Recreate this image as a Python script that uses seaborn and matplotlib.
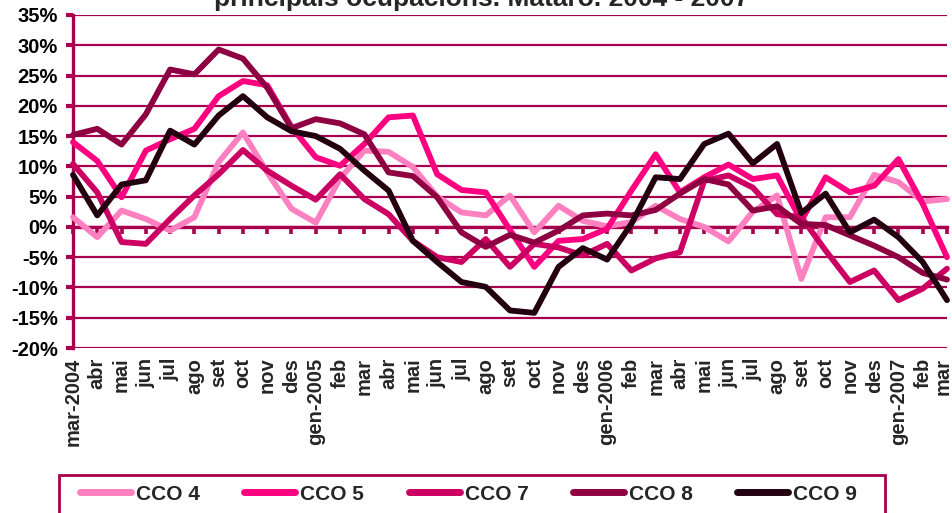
import matplotlib
matplotlib.use("Agg")
import matplotlib.pyplot as plt
import matplotlib.patches as mpatches
import matplotlib.transforms as mtransforms
import seaborn as sns
import pandas as pd
import numpy as np

months = ["mar-2004", "abr", "mai", "jun", "jul", "ago", "set", "oct", "nov", "des",
          "gen-2005", "feb", "mar", "abr", "mai", "jun", "jul", "ago", "set", "oct", "nov", "des",
          "gen-2006", "feb", "mar", "abr", "mai", "jun", "jul", "ago", "set", "oct", "nov", "des",
          "gen-2007", "feb", "mar"]

cco4 = [1.6, -1.7, 2.7, 1.3, -0.6, 1.6, 10.7, 15.6, 9.0, 3.0, 0.7, 8.0, 12.6, 12.4, 9.9, 5.0,
        2.4, 1.9, 5.2, -0.9, 3.5, 1.0, 0.1, 0.8, 3.5, 1.3, 0.0, -2.4, 2.5, 5.2, -8.6, 1.6,
        1.6, 8.6, 7.4, 4.2, 4.6]
cco5 = [14.0, 10.9, 4.9, 12.6, 14.5, 16.2, 21.6, 24.1, 23.4, 16.5, 11.5, 10.1, 13.7, 18.1, 18.4,
        8.7, 6.1, 5.7, -0.5, -6.6, -2.3, -2.0, -0.3, 6.0, 12.0, 5.7, 8.2, 10.3, 7.9, 8.5, 1.0,
        8.2, 5.7, 6.8, 11.2, 3.8, -5.0]
cco7 = [10.4, 5.7, -2.5, -2.8, 1.3, 5.2, 8.7, 12.7, 9.3, 6.8, 4.5, 8.7, 4.6, 2.1, -2.3, -5.0,
        -5.8, -2.0, -6.6, -2.8, -3.4, -4.7, -2.8, -7.2, -5.2, -4.2, 7.6, 8.5, 6.5, 2.1, 1.6,
        -3.9, -9.1, -7.2, -12.1, -10.2, -6.9]
cco8 = [15.2, 16.2, 13.6, 18.6, 26.0, 25.2, 29.3, 27.8, 23.0, 16.3, 17.8, 17.1, 15.3, 9.0, 8.4,
        4.9, -0.9, -3.3, -1.3, -2.6, -0.6, 1.9, 2.2, 1.9, 2.8, 5.5, 7.9, 7.0, 2.7, 3.4, 0.5,
        0.3, -1.4, -3.1, -5.0, -7.6, -8.7]
cco9 = [8.6, 1.9, 7.0, 7.7, 15.9, 13.6, 18.4, 21.6, 18.1, 15.8, 15.0, 12.9, 9.3, 6.0, -2.3,
        -5.8, -9.1, -9.9, -13.8, -14.2, -6.6, -3.5, -5.4, 0.5, 8.2, 7.9, 13.7, 15.4, 10.5, 13.7,
        2.3, 5.5, -0.9, 1.2, -1.7, -5.8, -12.1]

series_names = ["CCO 4", "CCO 5", "CCO 7", "CCO 8", "CCO 9"]
series_values = [cco4, cco5, cco7, cco8, cco9]
colors = ["#FF80C0", "#FF0080", "#CC0062", "#8E0042", "#22000F"]

yticks = list(range(-20, 36, 5))
ytick_labels = [f"{v}%" for v in yticks]

title = "principals ocupacions. Mataró. 2004 - 2007"

rows = []
for name, vals in zip(series_names, series_values):
    for i, v in enumerate(vals):
        rows.append({"idx": i, "value": v, "serie": name})
df = pd.DataFrame(rows)

sns.set_theme(style="white")
plt.rcParams["font.family"] = ["Liberation Sans", "DejaVu Sans"]
plt.rcParams["font.weight"] = "bold"

axis_color = "#A8004F"

fig = plt.figure(figsize=(9.53, 5.13), dpi=100)
ax = fig.add_axes([73 / 953, 1 - 348 / 513, (947 - 73) / 953, (348 - 15) / 513])

sns.lineplot(data=df, x="idx", y="value", hue="serie", palette=colors,
             hue_order=series_names, linewidth=4.2, ax=ax, legend=True,
             estimator=None, sort=False)
for ln in ax.lines:
    ln.set_solid_joinstyle("round")
    ln.set_solid_capstyle("round")
    ln.set_zorder(3)
    ln.set_clip_on(False)

handles, labels = ax.get_legend_handles_labels()
ax.get_legend().remove()

ax.set_xlim(0, len(months) - 1)
ax.set_ylim(-20, 35)
ax.set_yticks(yticks)
ax.set_yticklabels(ytick_labels)
ax.yaxis.grid(True, color=axis_color, linewidth=1.6)
ax.xaxis.grid(False)
ax.set_xlabel("")
ax.set_ylabel("")

for s in ["top", "right"]:
    ax.spines[s].set_visible(False)
ax.spines["left"].set_color(axis_color)
ax.spines["left"].set_linewidth(2.4)
ax.spines["bottom"].set_position(("data", 0))
ax.spines["bottom"].set_color(axis_color)
ax.spines["bottom"].set_linewidth(2.4)

ax.set_xticks(range(len(months)))
ax.tick_params(axis="x", labelbottom=False, length=5, width=2.6,
               direction="out", color=axis_color, bottom=True)
ax.tick_params(axis="y", left=True, length=5, width=3, direction="out",
               color=axis_color, labelsize=14.5, pad=6, labelcolor="black")
for t in ax.get_yticklabels():
    t.set_fontweight("bold")

sec = ax.secondary_xaxis(0)
sec.set_xticks(range(len(months)))
sec.set_xticklabels(months, rotation=90, fontsize=14.5, fontweight="bold")
sec.tick_params(axis="x", length=0, pad=7)
sec.spines["bottom"].set_visible(False)
last_lbl = sec.get_xticklabels()[-1]
last_lbl.set_transform(last_lbl.get_transform() +
                       mtransforms.ScaledTranslation(-4 / 100, 0, fig.dpi_scale_trans))

fig.text(482 / 953, 1 - 6 / 513, title, ha="center", va="baseline",
         fontsize=19, fontweight="bold")

for h in handles:
    h.set_linewidth(5)
    h.set_solid_capstyle("round")
leg = fig.legend(handles, labels, loc="center left",
                 bbox_to_anchor=(80 / 953, 1 - 494 / 513),
                 ncol=5, frameon=False,
                 fontsize=15, handlelength=2.45, handletextpad=0.24,
                 columnspacing=2.13, borderpad=0, borderaxespad=0)
for t in leg.get_texts():
    t.set_fontweight("bold")

frame = mpatches.Rectangle((59 / 953, -0.05), (885 - 59) / 953, 1 - 475 / 513 + 0.05,
                           transform=fig.transFigure, fill=False,
                           edgecolor=axis_color, linewidth=2, clip_on=False)
fig.patches.append(frame)

fig.savefig("out.png", dpi=100)
